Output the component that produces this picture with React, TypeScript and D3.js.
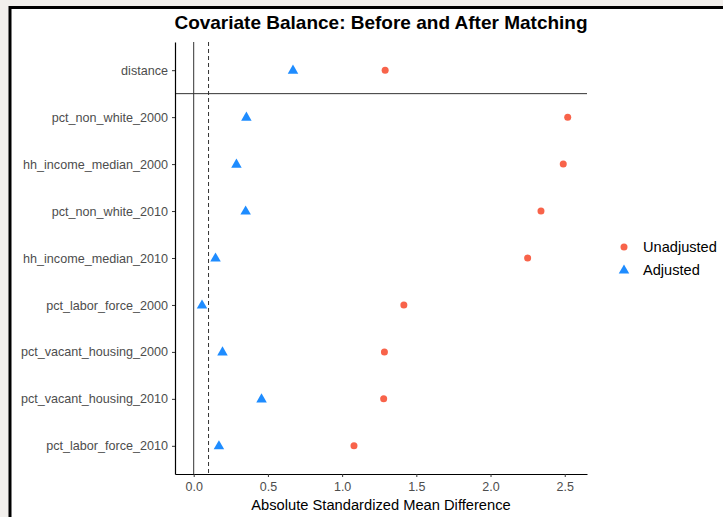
import { useEffect, useRef } from 'react';
import * as d3 from 'd3';

const covariates = [
  'distance',
  'pct_non_white_2000',
  'hh_income_median_2000',
  'pct_non_white_2010',
  'hh_income_median_2010',
  'pct_labor_force_2000',
  'pct_vacant_housing_2000',
  'pct_vacant_housing_2010',
  'pct_labor_force_2010',
];
const unadjusted = [1.29, 2.52, 2.49, 2.34, 2.25, 1.416, 1.285, 1.28, 1.08];
const adjusted = [0.669, 0.355, 0.288, 0.35, 0.147, 0.056, 0.194, 0.457, 0.17];
const xTicks = [0, 0.5, 1.0, 1.5, 2.0, 2.5];
const threshold = 0.1;

const W = 723;
const H = 517;
const margin = { top: 42, right: 136, bottom: 43, left: 175 };
const font = '"Liberation Sans", Arial, sans-serif';
const colUnadj = '#F8634A';
const colAdj = '#1E8CFF';

export default function App() {
  const svgRef = useRef<SVGSVGElement>(null);

  useEffect(() => {
    if (!svgRef.current) return;
    const svg = d3.select(svgRef.current);
    svg.selectAll('*').remove();

    // page frame
    svg.append('rect').attr('width', W).attr('height', H).attr('fill', '#f2efec');
    svg.append('rect').attr('x', 11).attr('y', 9).attr('width', W).attr('height', H).attr('fill', '#fff');
    svg.append('line').attr('x1', 10).attr('x2', W).attr('y1', 7.5).attr('y2', 7.5).attr('stroke', '#000').attr('stroke-width', 3);
    svg.append('line').attr('x1', 10).attr('x2', 10).attr('y1', 6).attr('y2', H).attr('stroke', '#000').attr('stroke-width', 3);

    const innerW = W - margin.left - margin.right;
    const innerH = H - margin.top - margin.bottom;

    const x = d3.scaleLinear().domain([-0.126, 2.65]).range([margin.left, margin.left + innerW]);
    const y = d3.scalePoint().domain(covariates).range([margin.top, margin.top + innerH]).padding(0.6);

    // reference lines
    svg.append('line')
      .attr('x1', x(0)).attr('x2', x(0))
      .attr('y1', margin.top).attr('y2', margin.top + innerH)
      .attr('stroke', '#333').attr('stroke-width', 1);
    svg.append('line')
      .attr('x1', x(threshold)).attr('x2', x(threshold))
      .attr('y1', margin.top).attr('y2', margin.top + innerH)
      .attr('stroke', '#333').attr('stroke-width', 1).attr('stroke-dasharray', '4,3');
    const sepY = ((y(covariates[0]) ?? 0) + (y(covariates[1]) ?? 0)) / 2;
    svg.append('line')
      .attr('x1', margin.left).attr('x2', margin.left + innerW)
      .attr('y1', sepY).attr('y2', sepY)
      .attr('stroke', '#333').attr('stroke-width', 1);

    // axes
    const xAxis = svg.append('g')
      .attr('transform', `translate(0,${margin.top + innerH})`)
      .call(d3.axisBottom(x).tickValues(xTicks).tickFormat(d3.format('.1f')).tickSize(3).tickSizeOuter(0));
    xAxis.select('.domain').attr('stroke', '#000').attr('stroke-width', 1.2);
    xAxis.selectAll('.tick line').attr('stroke', '#333');
    xAxis.selectAll('.tick text').attr('fill', '#4d4d4d').attr('font-size', 12.5).attr('font-family', font).attr('dy', '0.85em');

    const yAxis = svg.append('g')
      .attr('transform', `translate(${margin.left},0)`)
      .call(d3.axisLeft(y).tickSize(3).tickSizeOuter(0));
    yAxis.select('.domain').attr('stroke', '#000').attr('stroke-width', 1.2);
    yAxis.selectAll('.tick line').attr('stroke', '#333');
    yAxis.selectAll('.tick text').attr('fill', '#4d4d4d').attr('font-size', 12.6).attr('font-family', font).attr('x', -7);

    // points
    const tri = d3.symbol().type(d3.symbolTriangle).size(48);
    svg.append('g').selectAll('circle')
      .data(covariates)
      .join('circle')
      .attr('cx', (d, i) => x(unadjusted[i]))
      .attr('cy', (d) => y(d) ?? 0)
      .attr('r', 3.5)
      .attr('fill', colUnadj);
    svg.append('g').selectAll('path')
      .data(covariates)
      .join('path')
      .attr('d', tri)
      .attr('transform', (d, i) => `translate(${x(adjusted[i])},${(y(d) ?? 0) + 0.5})`)
      .attr('fill', colAdj);

    // title
    svg.append('text')
      .attr('x', margin.left + innerW / 2).attr('y', 29)
      .attr('text-anchor', 'middle')
      .attr('font-family', font).attr('font-size', 19).attr('font-weight', 'bold')
      .attr('fill', '#000')
      .text('Covariate Balance: Before and After Matching');

    // x title
    svg.append('text')
      .attr('x', margin.left + innerW / 2).attr('y', 510)
      .attr('text-anchor', 'middle')
      .attr('font-family', font).attr('font-size', 14.7)
      .attr('fill', '#000')
      .text('Absolute Standardized Mean Difference');

    // legend
    const lg = svg.append('g').attr('transform', 'translate(624,247)');
    lg.append('circle').attr('cx', 0).attr('cy', 0).attr('r', 3.5).attr('fill', colUnadj);
    lg.append('path').attr('d', tri).attr('transform', 'translate(0,23.5)').attr('fill', colAdj);
    lg.selectAll('text')
      .data(['Unadjusted', 'Adjusted'])
      .join('text')
      .attr('x', 19)
      .attr('y', (d, i) => i * 23)
      .attr('dy', '0.35em')
      .attr('font-family', font).attr('font-size', 14.6)
      .attr('fill', '#000')
      .text((d) => d);
  }, []);

  return (
    <svg
      ref={svgRef}
      width={W}
      height={H}
      style={{ position: 'absolute', left: 0, top: 0, display: 'block' }}
    />
  );
}
